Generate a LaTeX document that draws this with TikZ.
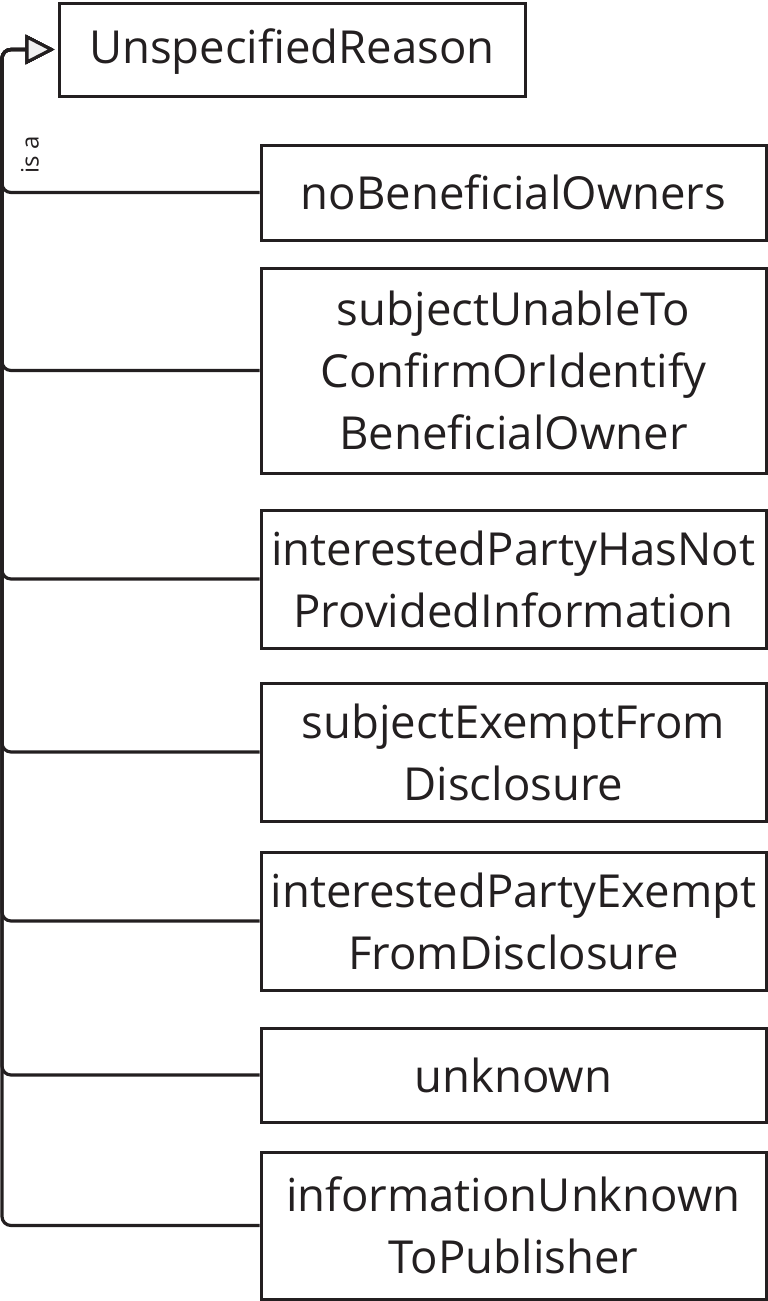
\documentclass[tikz,border=0pt]{standalone}
\usepackage{fontspec}
\setmainfont{Open Sans}
\usetikzlibrary{arrows.meta}
\definecolor{ink}{HTML}{231F20}
\tikzset{
  cls/.style={draw=ink, line width=3pt, text=ink, align=center, inner sep=0pt,
    font=\fontsize{45.5}{62}\selectfont},
  conn/.style={draw=ink, line width=3.2pt, rounded corners=9pt,
    -{Triangle[open, fill=gray!12, length=29pt, width=29pt, line width=3pt]}},
}
\begin{document}
\begin{tikzpicture}[x=1pt,y=-1pt]
\useasboundingbox (0,0) rectangle (768,1301);
\node[cls, minimum width=466pt, minimum height=93pt, text height=34pt, text depth=12pt] (top) at (292,49.5) {\raisebox{-3pt}{UnspecifiedReason}};
\node[cls, minimum width=505pt, minimum height=95pt] (b1) at (513.5,192.5) {noBeneficialOwners};
\node[cls, minimum width=505pt, minimum height=205pt] (b2) at (513.5,370.5) {subjectUnableTo\\ConfirmOrIdentify\\BeneficialOwner};
\node[cls, minimum width=505pt, minimum height=138pt] (b3) at (513.5,579) {interestedPartyHasNot\\ProvidedInformation};
\node[cls, minimum width=505pt, minimum height=138pt] (b4) at (513.5,752) {subjectExemptFrom\\Disclosure};
\node[cls, minimum width=505pt, minimum height=138pt] (b5) at (513.5,921) {interestedPartyExempt\\FromDisclosure};
\node[cls, minimum width=505pt, minimum height=94pt] (b6) at (513.5,1075) {unknown};
\node[cls, minimum width=505pt, minimum height=147pt] (b7) at (513.5,1225.5) {informationUnknown\\ToPublisher};
\coordinate (spine) at (2,0);
\foreach \b in {b1,b2,b3,b4,b5,b6,b7}{
  \draw[conn] (\b.west) -- (\b.west -| spine) |- ([xshift=-3pt]top.west);
}
\node[text=ink, rotate=90, font=\fontsize{24}{28}\selectfont, inner sep=0pt] (isa) at (30,155) {is a};
\end{tikzpicture}
\end{document}
